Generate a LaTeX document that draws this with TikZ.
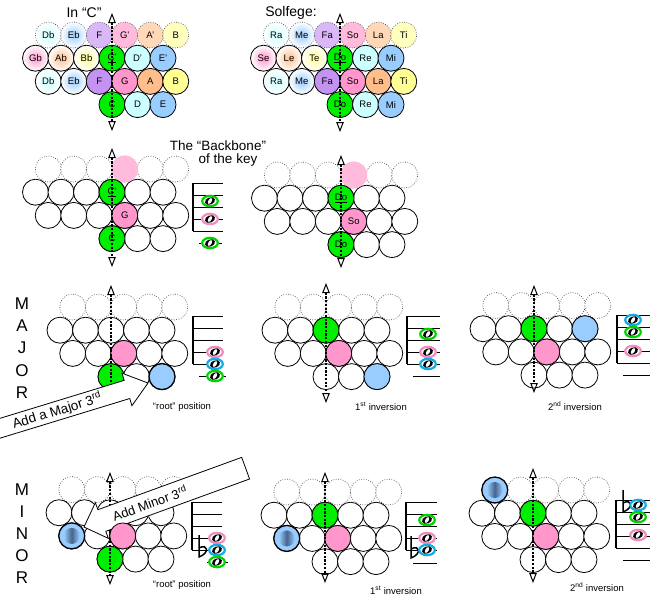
\documentclass[tikz,border=0pt]{standalone}
\usepackage{fontspec}
\setmainfont{Liberation Sans}
\usetikzlibrary{arrows.meta}

\definecolor{cDo}{RGB}{0,238,0}
\definecolor{cRe}{RGB}{204,255,255}
\definecolor{cMi}{RGB}{153,204,255}
\definecolor{cFa}{RGB}{196,146,240}
\definecolor{cFaLt}{RGB}{218,184,248}
\definecolor{cSo}{RGB}{255,150,204}
\definecolor{cSoLt}{RGB}{255,186,220}
\definecolor{cLa}{RGB}{255,190,140}
\definecolor{cLaLt}{RGB}{255,216,186}
\definecolor{cTi}{RGB}{255,255,150}
\definecolor{cTiLt}{RGB}{255,255,190}
\definecolor{nGreen}{RGB}{0,210,0}
\definecolor{nPink}{RGB}{240,140,190}
\definecolor{nBlue}{RGB}{20,170,230}
\definecolor{cShade}{RGB}{70,100,140}

\tikzset{
  tone/.style={circle,draw,fill=white,minimum size=26pt,inner sep=0pt,line width=0.8pt,font=\fontsize{9.5}{10}\selectfont},
  ghosttone/.style={tone,draw=black!75,line width=0.7pt,dash pattern=on 0.7pt off 1.7pt},
  glow/.style={inner color=#1,outer color=white},
  flattone/.style={tone,fill=cMi,line width=1.3pt},
  backbone/.style={line width=1.1pt,dash pattern=on 2.2pt off 1.5pt,
    {Triangle[open,length=10pt,width=7.5pt,line width=1pt]}-{Triangle[open,length=10pt,width=7.5pt,line width=1pt]}},
  bigarrow/.style={draw,fill=white,line width=0.8pt},
  headtext/.style={font=\fontsize{14}{16}\selectfont},
  vtext/.style={font=\fontsize{17}{18}\selectfont},
  chordtext/.style={font=\fontsize{9.5}{10}\selectfont}
}

% one block of the key: dotted row, two full rows, three below
\newcommand{\keygrid}[4]{%
  \foreach \k in {#4,...,2} {
    \node[ghosttone] (#1-1-\k) at ({#2+12.75+25.5*\k},#3) {};
    \node[tone] (#1-2-\k) at ({#2+25.5*\k},{#3+23.2}) {};
    \node[tone] (#1-3-\k) at ({#2+12.75+25.5*\k},{#3+46.4}) {};
  }
  \foreach \k in {0,1,2}
    \node[tone] (#1-4-\k) at ({#2+25.5*\k},{#3+69.6}) {};
}
% staff: x, top line, right end
\newcommand{\keystaff}[3]{%
  \draw[line width=2pt] (#1,#2) -- (#1,{#2+48});
  \foreach \i in {0,...,4}
    \draw[line width=1pt] (#1,{#2+12*\i}) -- (#3,{#2+12*\i});
}
% whole note: x, y, colour
\newcommand{\wnote}[3]{%
  \draw[#3,line width=2.2pt,fill=white] (#1,#2) ellipse [x radius=7.8,y radius=5.2];
  \fill[rotate around={20:(#1,#2)}] (#1,#2) ellipse [x radius=5.2,y radius=3.6];
  \fill[white,rotate around={60:(#1,#2)}] (#1,#2) ellipse [x radius=3.2,y radius=1.7];
}
% flat sign: x, foot of the stem
\newcommand{\flatsign}[2]{%
  \draw[line width=1.5pt] (#1,{#2-22}) -- (#1,#2) .. controls ({#1+11},{#2-4}) and ({#1+9},{#2-14}) .. (#1,{#2-9});
}

\begin{document}
\begin{tikzpicture}[x=1pt,y=-1pt]
	\clip (0,0) rectangle (650,598);

	% In "C"
	\node[headtext] (inC) at (84,13) {In “C”};
	\foreach \k/\t/\c in {-3/Db/cRe,-2/Eb/cMi}
		\node[ghosttone,glow=\c] (A1\k) at ({124.75+25.5*\k},35) {\t};
	\foreach \k/\t/\c in {-1/F/cFaLt,0/G'/cSoLt,1/A'/cLaLt,2/B/cTiLt}
		\node[ghosttone,fill=\c] (A1\k) at ({124.75+25.5*\k},35) {\t};
	\foreach \k/\t/\c in {-3/Gb/cSo,-2/Ab/cLa,-1/Bb/cTi}
		\node[tone,glow=\c] (A2\k) at ({112+25.5*\k},58.2) {\t};
	\foreach \k/\t/\c in {0/\underline{C'}/cDo,1/D'/cRe,2/E'/cMi}
		\node[tone,fill=\c] (A2\k) at ({112+25.5*\k},58.2) {\t};
	\foreach \k/\t/\c in {-3/Db/cRe,-2/Eb/cMi}
		\node[tone,glow=\c] (A3\k) at ({124.75+25.5*\k},81.4) {\t};
	\foreach \k/\t/\c in {-1/F/cFa,0/G/cSo,1/A/cLa,2/B/cTi}
		\node[tone,fill=\c] (A3\k) at ({124.75+25.5*\k},81.4) {\t};
	\foreach \k/\t/\c in {0/C/cDo,1/D/cRe,2/E/cMi}
		\node[tone,fill=\c] (A4\k) at ({112+25.5*\k},104.6) {\t};
	\coordinate (Atop) at (112,13);
	\coordinate (Abot) at (112,131);
	\draw[backbone] (Atop) -- (Abot);

	% Solfege
	\node[headtext] (solfege) at (291,13) {Solfege:};
	\foreach \k/\t/\c in {-3/Ra/cRe,-2/Me/cMi}
		\node[ghosttone,glow=\c] (B1\k) at ({352.75+25.5*\k},35) {\t};
	\foreach \k/\t/\c in {-1/Fa/cFaLt,0/So/cSoLt,1/La/cLaLt,2/Ti/cTiLt}
		\node[ghosttone,fill=\c] (B1\k) at ({352.75+25.5*\k},35) {\t};
	\foreach \k/\t/\c in {-3/Se/cSo,-2/Le/cLa,-1/Te/cTi}
		\node[tone,glow=\c] (B2\k) at ({340+25.5*\k},58.2) {\t};
	\foreach \k/\t/\c in {0/\underline{Do}/cDo,1/Re/cRe,2/Mi/cMi}
		\node[tone,fill=\c] (B2\k) at ({340+25.5*\k},58.2) {\t};
	\foreach \k/\t/\c in {-3/Ra/cRe,-2/Me/cMi}
		\node[tone,glow=\c] (B3\k) at ({352.75+25.5*\k},81.4) {\t};
	\foreach \k/\t/\c in {-1/Fa/cFa,0/So/cSo,1/La/cLa,2/Ti/cTi}
		\node[tone,fill=\c] (B3\k) at ({352.75+25.5*\k},81.4) {\t};
	\foreach \k/\t/\c in {0/Do/cDo,1/Re/cRe,2/Mi/cMi}
		\node[tone,fill=\c] (B4\k) at ({340+25.5*\k},104.6) {\t};
	\coordinate (Btop) at (340,13);
	\coordinate (Bbot) at (340,132);
	\draw[backbone] (Btop) -- (Bbot);

	% the backbone
	\node[headtext,font=\fontsize{13.5}{15}\selectfont] (bb1) at (218,146) {The “Backbone”};
	\node[headtext,font=\fontsize{13.5}{15}\selectfont] (bb2) at (228,160) {of the key};
	\keygrid{C}{112}{169}{-3}
	\node[tone,draw=none,fill=cSoLt,minimum size=27pt] (Cfifth) at (C-1-0) {};
	\node[tone,fill=cDo] (Ctop) at (C-2-0) {\underline{C'}};
	\node[tone,fill=cSo] (Cmid) at (C-3-0) {G};
	\node[tone,fill=cDo] (Cbot) at (C-4-0) {C};
	\coordinate (Cup) at (112,148);
	\coordinate (Cdn) at (112,267);
	\draw[backbone] (Cup) -- (Cdn);
	\keystaff{193}{183}{223}
	\draw[line width=1pt] (199,243) -- (222,243);
	\wnote{210}{201}{nGreen}
	\wnote{210}{219}{nPink}
	\wnote{210}{243}{nGreen}

	\keygrid{D}{341}{175}{-3}
	\node[tone,draw=none,fill=cSoLt,minimum size=27pt] (Dfifth) at (D-1-0) {};
	\node[tone,fill=cDo] (Dtop) at (D-2-0) {\underline{Do}};
	\node[tone,fill=cSo] (Dmid) at (D-3-0) {So};
	\node[tone,fill=cDo] (Dbot) at (D-4-0) {Do};
	\coordinate (Dup) at (341,155);
	\coordinate (Ddn) at (341,268);
	\draw[backbone] (Dup) -- (Ddn);

	% MAJOR
	\foreach \l/\y in {M/304,A/326,J/348,O/371,R/393}
		\node[vtext] (maj\l) at (22,\y) {\l};
	\keygrid{E}{111}{307}{-2}
	\node[tone,fill=cSo] (Efifth) at (E-3-0) {};
	\node[tone,fill=cDo] (Eroot) at (E-4-0) {};
	\node[tone,fill=cMi,line width=1.3pt] (Ethird) at (E-4-2) {};
	\coordinate (Eup) at (111,285);
	\coordinate (Edn) at (111,400);
	\draw[backbone] (Eup) -- (Edn);
	\begin{scope}[shift={(148,383)},rotate=17]
		\draw[bigarrow] (0,0) -- (-22,-17) -- (-22,-9.5) -- (-200,-9.5) -- (-200,9.5) -- (-22,9.5) -- (-22,17) -- cycle;
		\node[transform shape,font=\fontsize{13.5}{15}\selectfont] (addmaj) at (-95,0) {Add a Major 3\textsuperscript{rd}};
	\end{scope}
	\keystaff{193}{316}{223}
	\draw[line width=1pt] (199,376) -- (226,376);
	\wnote{215}{352}{nPink}
	\wnote{215}{364}{nBlue}
	\wnote{215}{376}{nGreen}
	\node[chordtext] (Ecap) at (182,407) {“root” position};

	\keygrid{F}{326}{307}{-2}
	\node[tone,fill=cDo] (Froot) at (F-2-0) {};
	\node[tone,fill=cSo] (Ffifth) at (F-3-0) {};
	\node[tone,fill=cMi] (Fthird) at (F-4-2) {};
	\coordinate (Fup) at (326,283);
	\coordinate (Fdn) at (326,403);
	\draw[backbone] (Fup) -- (Fdn);
	\keystaff{407}{316}{440}
	\draw[line width=1pt] (413,376) -- (440,376);
	\wnote{428}{334}{nGreen}
	\wnote{428}{352}{nPink}
	\wnote{428}{364}{nBlue}
	\node[chordtext] (Fcap) at (381,406) {1\textsuperscript{st} inversion};

	\keygrid{G}{534}{305.5}{-2}
	\node[tone,fill=cDo] (Groot) at (G-2-0) {};
	\node[tone,fill=cMi] (Gthird) at (G-2-2) {};
	\node[tone,fill=cSo] (Gfifth) at (G-3-0) {};
	\coordinate (Gup) at (534,285);
	\coordinate (Gdn) at (534,393);
	\draw[backbone] (Gup) -- (Gdn);
	\keystaff{617}{315}{650}
	\draw[line width=1pt] (623,375) -- (650,375);
	\wnote{633}{320}{nBlue}
	\wnote{633}{332}{nGreen}
	\wnote{633}{351}{nPink}
	\node[chordtext] (Gcap) at (575,406) {2\textsuperscript{nd} inversion};

	% MINOR
	\foreach \l/\y in {M/490,I/512,N/534,O/556,R/578}
		\node[vtext] (min\l) at (22,\y) {\l};
	\keygrid{H}{110}{489.5}{-2}
	\node[flattone] (Hthird) at (H-3--2) {};
	\shade[left color=cMi,right color=cMi,middle color=cShade] (Hthird) circle (8pt);
	\node[tone,fill=cDo] (Hroot) at (H-4-0) {};
	\coordinate (Hup) at (110,472);
	\coordinate (Hdn) at (110,585);
	\draw[backbone] (Hup) -- (Hdn);
	\begin{scope}[shift={(84,527)},rotate=200]
		\draw[bigarrow] (0,0) -- (-19,-19) -- (-19,-11.5) -- (-172,-11.5) -- (-172,11.5) -- (-19,11.5) -- (-19,19) -- cycle;
		\node[transform shape,rotate=180,font=\fontsize{13}{14}\selectfont] (addmin) at (-70,0) {Add Minor 3\textsuperscript{rd}};
	\end{scope}
	\node[tone,fill=cSo] (Hfifth) at (H-3-0) {};
	\keystaff{192}{502}{222}
	\flatsign{199}{557}
	\draw[line width=1pt] (207,562) -- (228,562);
	\wnote{217}{538}{nPink}
	\wnote{217}{550}{nBlue}
	\wnote{217}{562}{nGreen}
	\node[chordtext] (Hcap) at (182,585) {“root” position};

	\keygrid{I}{325}{492}{-2}
	\node[tone,fill=cDo] (Iroot) at (I-2-0) {};
	\node[tone,fill=cSo] (Ififth) at (I-3-0) {};
	\node[flattone] (Ithird) at (I-3--2) {};
	\shade[left color=cMi,right color=cMi,middle color=cShade] (Ithird) circle (8pt);
	\coordinate (Iup) at (325,472);
	\coordinate (Idn) at (325,583);
	\draw[backbone] (Iup) -- (Idn);
	\keystaff{406}{502}{437}
	\draw[line width=1pt] (413,563) -- (437,563);
	\flatsign{411}{558}
	\wnote{427}{520}{nGreen}
	\wnote{427}{538}{nPink}
	\wnote{427}{550}{nBlue}
	\node[chordtext] (Icap) at (396,590) {1\textsuperscript{st} inversion};

	\keygrid{J}{533}{490}{-2}
	\node[flattone] (Jthird) at (J-1--2) {};
	\shade[left color=cMi,right color=cMi,middle color=cShade] (Jthird) circle (8pt);
	\node[tone,fill=cDo] (Jroot) at (J-2-0) {};
	\node[tone,fill=cSo] (Jfifth) at (J-3-0) {};
	\coordinate (Jup) at (533,468);
	\coordinate (Jdn) at (533,583);
	\draw[backbone] (Jup) -- (Jdn);
	\keystaff{616}{500}{650}
	\draw[line width=1pt] (623,560) -- (650,560);
	\flatsign{623}{512}
	\wnote{638}{505}{nBlue}
	\wnote{638}{517}{nGreen}
	\wnote{638}{535}{nPink}
	\node[chordtext] (Jcap) at (597,587) {2\textsuperscript{nd} inversion};
\end{tikzpicture}
\end{document}
